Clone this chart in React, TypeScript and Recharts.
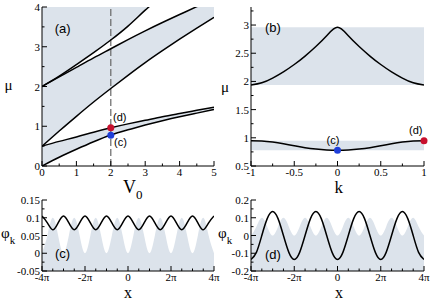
import React from "react";
import {
  ComposedChart,
  Area,
  Line,
  XAxis,
  YAxis,
  ReferenceLine,
  ReferenceDot,
  ReferenceArea,
} from "recharts";

const SERIF = "'Liberation Serif', 'Times New Roman', serif";
const SANS = "'Liberation Sans', Arial, sans-serif";
const SHADE = "#dce3eb";
const RED = "#c8102e";
const BLUE = "#1f3fd9";

// (a) band edges, mu vs V0
const v0 = [0, 0.5, 1, 1.5, 2, 2.5, 3, 3.5, 4, 4.5, 5];
const band1Low = [0, 0.22, 0.42, 0.61, 0.78, 0.91, 1.03, 1.14, 1.24, 1.33, 1.42];
const band1High = [0.5, 0.62, 0.73, 0.85, 0.96, 1.06, 1.15, 1.24, 1.32, 1.4, 1.48];
const band2Low = [0.5, 0.88, 1.25, 1.61, 1.95, 2.28, 2.6, 2.9, 3.19, 3.47, 3.74];
const band2High = [2, 2.24, 2.48, 2.72, 2.95, 3.18, 3.4, 3.61, 3.81, 4.01, 4.2];
const band3Low = [2, 2.26, 2.55, 2.85, 3.17, 3.52, 3.92, 4.3, 4.7, 5.1, 5.5];
const markerV0 = 2;
const markerD = 0.96;
const markerC = 0.775;

// (b) mu vs k at V0 = 2
const kVals = [-1, -0.875, -0.75, -0.625, -0.5, -0.375, -0.25, -0.125, 0, 0.125, 0.25, 0.375, 0.5, 0.625, 0.75, 0.875, 1];
const upperCurve = [1.935, 1.975, 2.06, 2.17, 2.3, 2.45, 2.62, 2.81, 2.96, 2.81, 2.62, 2.45, 2.3, 2.17, 2.06, 1.975, 1.935];
const lowerCurve = [0.95, 0.945, 0.925, 0.895, 0.86, 0.825, 0.8, 0.785, 0.78, 0.785, 0.8, 0.825, 0.86, 0.895, 0.925, 0.945, 0.95];
const upperBand = [1.935, 2.96];
const lowerBand = [0.78, 0.95];

// (c), (d) wave functions, x in units of pi
const xPi = [-4, -3.75, -3.5, -3.25, -3, -2.75, -2.5, -2.25, -2, -1.75, -1.5, -1.25, -1, -0.75, -0.5, -0.25, 0,
  0.25, 0.5, 0.75, 1, 1.25, 1.5, 1.75, 2, 2.25, 2.5, 2.75, 3, 3.25, 3.5, 3.75, 4];
const phiC = [0.105, 0.0855, 0.066, 0.0855, 0.105, 0.0855, 0.066, 0.0855, 0.105, 0.0855, 0.066, 0.0855, 0.105, 0.0855, 0.066, 0.0855, 0.105,
  0.0855, 0.066, 0.0855, 0.105, 0.0855, 0.066, 0.0855, 0.105, 0.0855, 0.066, 0.0855, 0.105, 0.0855, 0.066, 0.0855, 0.105];
const phiD = [-0.135, -0.095, 0, 0.095, 0.135, 0.095, 0, -0.095, -0.135, -0.095, 0, 0.095, 0.135, 0.095, 0, -0.095, -0.135,
  -0.095, 0, 0.095, 0.135, 0.095, 0, -0.095, -0.135, -0.095, 0, 0.095, 0.135, 0.095, 0, -0.095, -0.135];
const lattice = [0, 0.05, 0.1, 0.05, 0, 0.05, 0.1, 0.05, 0, 0.05, 0.1, 0.05, 0, 0.05, 0.1, 0.05, 0,
  0.05, 0.1, 0.05, 0, 0.05, 0.1, 0.05, 0, 0.05, 0.1, 0.05, 0, 0.05, 0.1, 0.05, 0];

// ticks
const ticksAx = [0, 0.5, 1, 1.5, 2, 2.5, 3, 3.5, 4, 4.5, 5];
const ticksAy = [0, 0.5, 1, 1.5, 2, 2.5, 3, 3.5, 4];
const ticksBx = [-1, -0.75, -0.5, -0.25, 0, 0.25, 0.5, 0.75, 1];
const ticksBy = [0.5, 0.75, 1, 1.25, 1.5, 1.75, 2, 2.25, 2.5, 2.75, 3, 3.25];
const ticksX = [-4, -3.5, -3, -2.5, -2, -1.5, -1, -0.5, 0, 0.5, 1, 1.5, 2, 2.5, 3, 3.5, 4];
const ticksCy = [-0.05, -0.025, 0, 0.025, 0.05, 0.075, 0.1, 0.125, 0.15];
const ticksDy = [-0.2, -0.15, -0.1, -0.05, 0, 0.05, 0.1, 0.15, 0.2];

const dataA = v0.map((v, i) => ({
  v0: v, l1: band1Low[i], h1: band1High[i], l2: band2Low[i], h2: band2High[i], l3: band3Low[i],
}));
const dataB = kVals.map((k, i) => ({ k, up: upperCurve[i], lo: lowerCurve[i] }));
const dataCD = xPi.map((x, i) => ({ x, c: phiC[i], d: phiD[i], pot: lattice[i] }));

const fmtNum = (v: number) => String(Number(v.toFixed(3)));
const fmtPi = (v: number) => (v === 0 ? "0" : `${v}π`);
const onStep = (v: number, step: number) => Math.abs(v / step - Math.round(v / step)) < 1e-6;

const tickBottom = (step: number, fmt: (v: number) => string) => (p: any) => {
  const v = p.payload.value;
  const major = onStep(v, step);
  return (
    <g key={`b${v}`}>
      <line x1={p.x} x2={p.x} y1={p.y} y2={p.y - (major ? 5 : 2.5)} stroke="#000" />
      {major && (
        <text x={p.x} y={p.y + 10} textAnchor="middle" fontSize={11} fontFamily={SERIF} fill="#000">
          {fmt(v)}
        </text>
      )}
    </g>
  );
};
const tickTop = (step: number) => (p: any) => {
  const major = onStep(p.payload.value, step);
  return <line key={`t${p.payload.value}`} x1={p.x} x2={p.x} y1={p.y} y2={p.y + (major ? 5 : 2.5)} stroke="#000" />;
};
const tickLeft = (step: number) => (p: any) => {
  const v = p.payload.value;
  const major = onStep(v, step);
  return (
    <g key={`l${v}`}>
      <line x1={p.x} x2={p.x + (major ? 5 : 2.5)} y1={p.y} y2={p.y} stroke="#000" />
      {major && (
        <text x={p.x - 2} y={p.y + 4} textAnchor="end" fontSize={11} fontFamily={SERIF} fill="#000">
          {fmtNum(v)}
        </text>
      )}
    </g>
  );
};
const tickRight = (step: number) => (p: any) => {
  const major = onStep(p.payload.value, step);
  return <line key={`r${p.payload.value}`} x1={p.x} x2={p.x - (major ? 5 : 2.5)} y1={p.y} y2={p.y} stroke="#000" />;
};

function frame(key: string, xDom: number[], yDom: number[], xt: number[], yt: number[], xs: number, ys: number,
  xf: (v: number) => string, xh: number) {
  const common = { type: "number" as const, allowDataOverflow: true, interval: 0 as const, tickLine: false,
    tickSize: 0, tickMargin: 0, axisLine: { stroke: "#000" } };
  return [
    <XAxis key="xb" xAxisId="b" dataKey={key} orientation="bottom" domain={xDom} ticks={xt} height={xh} tick={tickBottom(xs, xf)} {...common} />,
    <XAxis key="xt" xAxisId="t" dataKey={key} orientation="top" domain={xDom} ticks={xt} height={0} tick={tickTop(xs)} {...common} />,
    <YAxis key="yl" yAxisId="l" orientation="left" domain={yDom} ticks={yt} width={42} tick={tickLeft(ys)} {...common} />,
    <YAxis key="yr" yAxisId="r" orientation="right" domain={yDom} ticks={yt} width={0} tick={tickRight(ys)} {...common} />,
  ];
}

const ax = { xAxisId: "b", yAxisId: "l" };
const curve = { type: "natural" as const, stroke: "#000", strokeWidth: 1.5, dot: false, isAnimationActive: false, ...ax };
const band = { type: "natural" as const, fill: SHADE, fillOpacity: 1, stroke: "none", isAnimationActive: false, ...ax };

function PanelA() {
  return (
    <ComposedChart width={222} height={190} data={dataA} margin={{ top: 7, right: 8, bottom: 0, left: 0 }}>
      {frame("v0", [0, 5], [0, 4], ticksAx, ticksAy, 1, 1, fmtNum, 24)}
      <Area {...band} dataKey={(d: any) => [d.l1, d.h1]} />
      <Area {...band} dataKey={(d: any) => [d.l2, d.h2]} />
      <Area {...band} dataKey={(d: any) => [d.l3, 4]} />
      <ReferenceLine {...ax} x={markerV0} stroke="#666" strokeWidth={1.2} strokeDasharray="7 3" />
      <Line {...curve} dataKey="l1" />
      <Line {...curve} dataKey="h1" />
      <Line {...curve} dataKey="l2" />
      <Line {...curve} dataKey="h2" />
      <Line {...curve} dataKey="l3" />
      <ReferenceDot {...ax} x={markerV0} y={markerD} r={3.5} fill={RED} stroke="none" />
      <ReferenceDot {...ax} x={markerV0} y={markerC} r={3.5} fill={BLUE} stroke="none" />
    </ComposedChart>
  );
}

function PanelB() {
  return (
    <ComposedChart width={222} height={190} data={dataB} margin={{ top: 7, right: 7, bottom: 0, left: 0 }}>
      {frame("k", [-1, 1], [0.5, 3.32], ticksBx, ticksBy, 0.5, 0.5, fmtNum, 24)}
      <ReferenceArea {...ax} x1={-1} x2={1} y1={upperBand[0]} y2={upperBand[1]} fill={SHADE} fillOpacity={1} stroke="none" />
      <ReferenceArea {...ax} x1={-1} x2={1} y1={lowerBand[0]} y2={lowerBand[1]} fill={SHADE} fillOpacity={1} stroke="none" />
      <Line {...curve} dataKey="up" />
      <Line {...curve} dataKey="lo" />
      <ReferenceDot {...ax} x={0} y={lowerBand[0]} r={3.5} fill={BLUE} stroke="none" />
      <ReferenceDot {...ax} x={1} y={lowerBand[1]} r={3.5} fill={RED} stroke="none" />
    </ComposedChart>
  );
}

function PanelWave({ field, yDom, yt, ys }: { field: "c" | "d"; yDom: number[]; yt: number[]; ys: number }) {
  return (
    <ComposedChart width={222} height={110} data={dataCD} margin={{ top: 10, right: field === "c" ? 8 : 7, bottom: 0, left: 0 }}>
      {frame("x", [-4, 4], yDom, ticksX, yt, 2, ys, fmtPi, 29)}
      <Area {...band} dataKey={(d: any) => [yDom[0], d.pot]} />
      <Line {...curve} dataKey={field} />
    </ComposedChart>
  );
}

export default function App() {
  const t = (x: number, y: number, s: string, size: number, family = SERIF, anchor = "middle") => (
    <text x={x} y={y} fontSize={size} fontFamily={family} textAnchor={anchor as any} fill="#000">{s}</text>
  );
  return (
    <div style={{ position: "absolute", left: 0, top: 0, width: 431, height: 300, background: "#fff" }}>
      <div style={{ position: "absolute", left: 0, top: 0 }}><PanelA /></div>
      <div style={{ position: "absolute", left: 209, top: 0 }}><PanelB /></div>
      <div style={{ position: "absolute", left: 0, top: 190 }}>
        <PanelWave field="c" yDom={[-0.05, 0.15]} yt={ticksCy} ys={0.05} />
      </div>
      <div style={{ position: "absolute", left: 209, top: 190 }}>
        <PanelWave field="d" yDom={[-0.2, 0.2]} yt={ticksDy} ys={0.1} />
      </div>
      <svg width={431} height={300} style={{ position: "absolute", left: 0, top: 0, pointerEvents: "none" }}>
        {t(8.5, 90, "μ", 15)}
        {t(225, 91.5, "μ", 15)}
        <text x={123} y={193} fontSize={18} fontFamily={SERIF} fill="#000">V<tspan fontSize={13} dy={6}>0</tspan></text>
        {t(338.7, 192.5, "k", 17)}
        <text x={1} y={238} fontSize={15} fontFamily={SERIF} fill="#000">φ<tspan fontSize={11} dy={6}>k</tspan></text>
        <text x={218} y={238} fontSize={15} fontFamily={SERIF} fill="#000">φ<tspan fontSize={11} dy={6}>k</tspan></text>
        {t(128, 298, "x", 16)}
        {t(339, 298, "x", 16)}
        {t(54.7, 32.5, "(a)", 13, SANS, "start")}
        {t(265, 31.5, "(b)", 13, SANS, "start")}
        {t(55, 258, "(c)", 13, SANS, "start")}
        {t(265, 259, "(d)", 13, SANS, "start")}
        {t(113, 121, "(d)", 11, SANS, "start")}
        {t(114, 146, "(c)", 11, SANS, "start")}
        {t(326.5, 144, "(c)", 11, SANS, "start")}
        {t(409, 134, "(d)", 11, SANS, "start")}
      </svg>
    </div>
  );
}
